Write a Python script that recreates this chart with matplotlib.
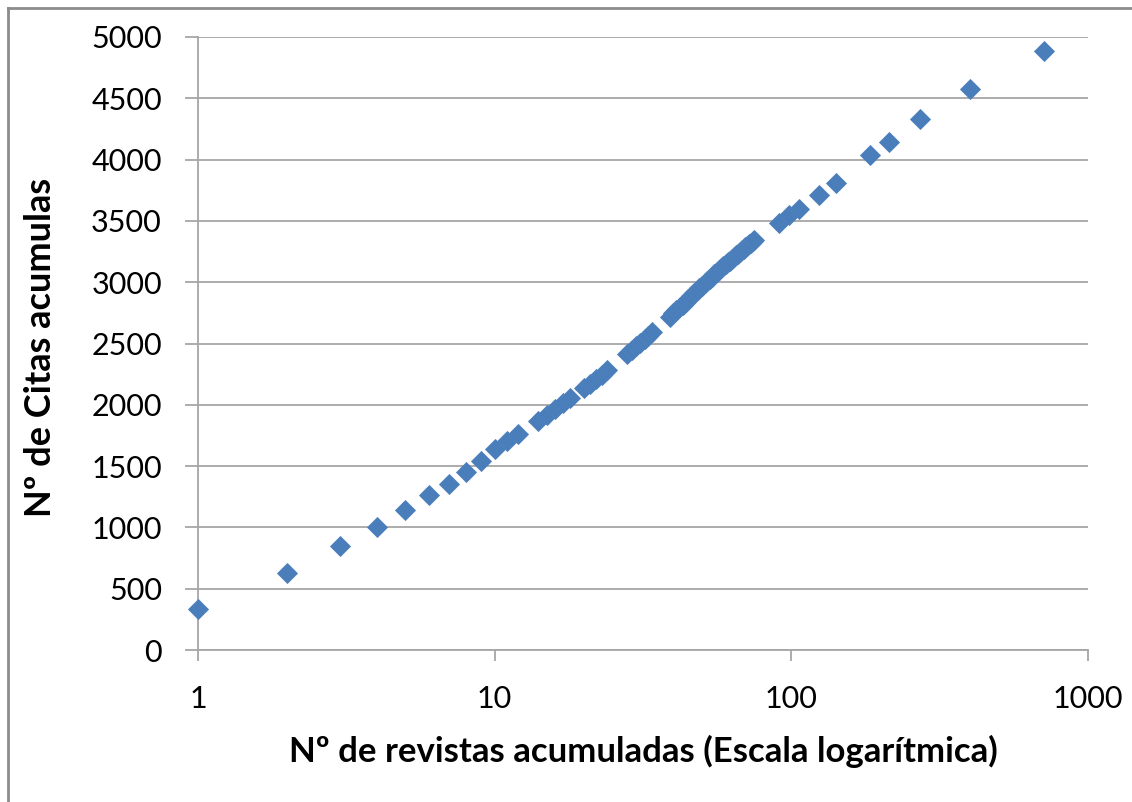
import matplotlib
matplotlib.use("Agg")
import matplotlib.pyplot as plt
from matplotlib.lines import Line2D

# cumulative journals (x) vs cumulative citations (y)
revistas = [1, 2, 3, 4, 5, 6, 7, 8, 9, 10, 11, 12, 14, 15, 16, 17, 18, 20, 21, 22,
            23, 24, 28, 29, 30, 31, 32, 33, 34, 39, 40, 41, 42, 43, 44, 45, 46, 47,
            48, 49, 50, 51, 52, 53, 54, 55, 56, 57, 58, 59, 60, 61, 62, 63, 64, 65,
            66, 67, 68, 69, 70, 71, 72, 73, 74, 75, 91, 98, 106, 124, 141, 184, 213,
            271, 400, 711]
citas = [334, 628, 848, 1003, 1139, 1264, 1357, 1452, 1544, 1637, 1705, 1765, 1870,
         1920, 1967, 2012, 2055, 2135, 2173, 2210, 2246, 2281, 2413, 2445, 2476, 2506,
         2535, 2563, 2590, 2720, 2745, 2770, 2794, 2818, 2841, 2864, 2886, 2908, 2929,
         2950, 2970, 2990, 3009, 3028, 3046, 3064, 3081, 3098, 3114, 3130, 3146, 3161,
         3176, 3191, 3205, 3219, 3233, 3246, 3259, 3272, 3285, 3297, 3309, 3321, 3333,
         3345, 3483, 3545, 3600, 3711, 3812, 4035, 4146, 4329, 4576, 4888]

x_ticks = [1, 10, 100, 1000]
y_ticks = list(range(0, 5001, 500))

plt.rcParams['font.family'] = ['Lato', 'DejaVu Sans']

fig = plt.figure(figsize=(11.32, 8.02), dpi=100)
ax = fig.add_axes([198/1132, 1 - 650/802, 890/1132, 613/802])

grid_col = '#a6a6a6'
ax.plot(revistas, citas, linestyle='none', marker='D', markersize=10,
        color='#4a7ebb', markeredgecolor='#4f81bd', markeredgewidth=0.6,
        zorder=3, clip_on=False)

ax.set_xscale('log')
ax.set_xlim(1, 1000)
ax.set_ylim(0, 5000)
ax.set_xticks(x_ticks)
ax.set_xticklabels([str(t) for t in x_ticks])
ax.minorticks_off()
ax.set_yticks(y_ticks)
ax.set_yticklabels([str(t) for t in y_ticks])

ax.yaxis.grid(True, color=grid_col, linewidth=1.3)
ax.set_axisbelow(True)
for s in ['top', 'right']:
    ax.spines[s].set_visible(False)
for s in ['left', 'bottom']:
    ax.spines[s].set_color(grid_col)
    ax.spines[s].set_linewidth(1.3)

ax.tick_params(axis='y', length=9.5, width=1.3, color=grid_col, pad=16.5,
               labelsize=22, labelcolor='black')
ax.tick_params(axis='x', length=8, width=1.3, color=grid_col, pad=17,
               labelsize=22, labelcolor='black')

ax.set_xlabel('Nº de revistas acumuladas (Escala logarítmica)', fontsize=25,
              fontweight='bold')
ax.xaxis.set_label_coords(0.5, -0.139)
ax.set_ylabel('Nº de Citas acumulas', fontsize=26, fontweight='bold')
ax.yaxis.set_label_coords(-0.158, 0.494)

# chart area border (only left and top edges are visible in the crop)
fig.add_artist(Line2D([8/1132, 8/1132], [0, 1 - 8/802], transform=fig.transFigure,
                      color='#8c8c8c', linewidth=2))
fig.add_artist(Line2D([8/1132, 1], [1 - 8/802, 1 - 8/802], transform=fig.transFigure,
                      color='#8c8c8c', linewidth=2))

fig.savefig('out.png', dpi=100)
